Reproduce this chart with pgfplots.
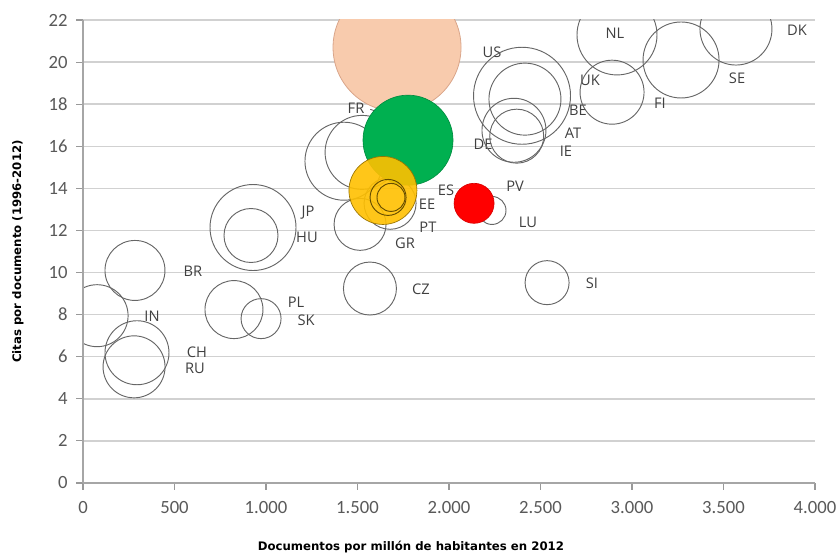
\documentclass[border=0pt]{standalone}
\usepackage{pgfplots}
\pgfplotsset{compat=1.18}
\usepackage{pgfplotstable}
\usepackage{fontspec}
\setmainfont{Carlito}
\newfontfamily\lblfont{Open Sans}
\newfontfamily\titlefont{DejaVu Sans}
\definecolor{peach}{HTML}{F8CBAD}
\definecolor{peachdark}{HTML}{D9A58A}
\definecolor{bgreen}{HTML}{00B050}
\definecolor{borange}{HTML}{FFC000}
\definecolor{bred}{HTML}{FF0000}
\definecolor{lbltext}{HTML}{404040}
\tikzset{lbl/.style={font=\lblfont\fontsize{11}{13}\selectfont, text=lbltext, inner sep=0pt}}
\pgfplotsset{geom/.style={scale only axis, width=549pt, height=347.25pt,
  xmin=0, xmax=4000, ymin=0, ymax=22, at={(0,0)}, anchor=south west,
  xtick={0,500,...,4000}, ytick={0,2,...,22}}}
\pgfplotstableread{
x y r
2399 18.40 48.5
2415 18.24 36
2355 16.76 32
2370 16.48 27
2918 21.29 40
3568 21.57 36
3268 20.10 38
2891 18.57 32
1426 15.29 39
1525 15.71 37
1514 12.29 26
1678 13.29 26
2235 12.95 14
929 12.14 43
918 11.76 27
284 10.10 30
77 7.95 31
295 6.19 32
279 5.52 31
825 8.24 29
973 7.81 20
1568 9.24 26.5
2536 9.52 22
}\outlines
\pgfplotstableread{
x y r
1667 13.57 18
1683 13.57 14
}\inner
\begin{document}
\begin{tikzpicture}
% grid and axis titles
\begin{axis}[name=ax, geom,
  xticklabels={}, yticklabels={}, major tick length=0pt,
  axis line style={draw=none},
  ymajorgrids, grid style={black!18, line width=1.1pt},
  xlabel={Documentos por millón de habitantes en 2012},
  ylabel={Citas por documento (1996-2012)},
  xlabel style={font=\titlefont\bfseries\fontsize{8.8}{10}\selectfont, at={(axis description cs:0.448,-0.1382)}, anchor=center},
  ylabel style={font=\titlefont\bfseries\fontsize{8.8}{10}\selectfont, at={(axis description cs:-0.0888,0.5)}, anchor=center},
]
\addplot[draw=none] coordinates {(0,0)};
\end{axis}
% bubbles
\begin{scope}
\clip (0,0) rectangle (549pt,347.25pt);
\begin{axis}[geom, hide axis, clip=false]
\addplot[scatter, only marks, mark=o, line width=0.7pt,
  scatter/use mapped color={draw=black!60},
  visualization depends on={0.75*\thisrow{r} \as \rr},
  scatter/@pre marker code/.append style={/tikz/mark size=\rr pt}]
  table[x=x, y=y] {\outlines};
\addplot[only marks, mark=*, mark size=48pt, mark options={fill=peach, draw=peachdark, line width=0.6pt}] coordinates {(1716,20.7)};
\addplot[only marks, mark=*, mark size=33.75pt, mark options={fill=bgreen, draw=bgreen!80!black, line width=0.5pt}] coordinates {(1776,16.29)};
\addplot[only marks, mark=*, mark size=25.5pt, mark options={fill=borange, fill opacity=0.9, draw=borange!60!black, line width=0.5pt}] coordinates {(1639,13.9)};
\addplot[only marks, mark=*, mark size=15pt, mark options={fill=bred, draw=bred!85!black, line width=0.5pt}] coordinates {(2137,13.29)};
\addplot[scatter, only marks, mark=o, line width=0.7pt,
  scatter/use mapped color={draw=borange!40!black},
  visualization depends on={0.75*\thisrow{r} \as \rr},
  scatter/@pre marker code/.append style={/tikz/mark size=\rr pt}]
  table[x=x, y=y] {\inner};
\draw[black!70, line width=0.6pt] (axis cs:1570,17.75) -- (axis cs:1710,17.4);
\node[lbl] at (axis cs:2235,20.48) {US};
\node[lbl] at (axis cs:1492,17.81) {FR};
\node[lbl] at (axis cs:2186,16.10) {DE};
\node[lbl] at (axis cs:1765,15.33) {IT};
\node[lbl] at (axis cs:1984,13.90) {ES};
\node[lbl] at (axis cs:2361,14.10) {PV};
\node[lbl] at (axis cs:1880,13.24) {EE};
\node[lbl] at (axis cs:1885,12.14) {PT};
\node[lbl] at (axis cs:1760,11.38) {GR};
\node[lbl] at (axis cs:2432,12.38) {LU};
\node[lbl] at (axis cs:1230,12.86) {JP};
\node[lbl] at (axis cs:1224,11.67) {HU};
\node[lbl] at (axis cs:601,10.05) {BR};
\node[lbl] at (axis cs:377,7.90) {IN};
\node[lbl] at (axis cs:623,6.19) {CH};
\node[lbl] at (axis cs:612,5.43) {RU};
\node[lbl] at (axis cs:1164,8.57) {PL};
\node[lbl] at (axis cs:1219,7.71) {SK};
\node[lbl] at (axis cs:1847,9.19) {CZ};
\node[lbl] at (axis cs:2781,9.48) {SI};
\node[lbl] at (axis cs:2907,21.38) {NL};
\node[lbl] at (axis cs:3902,21.52) {DK};
\node[lbl] at (axis cs:2770,19.14) {UK};
\node[lbl] at (axis cs:3574,19.24) {SE};
\node[lbl] at (axis cs:3153,18.05) {FI};
\node[lbl] at (axis cs:2705,17.71) {BE};
\node[lbl] at (axis cs:2678,16.62) {AT};
\node[lbl] at (axis cs:2639,15.76) {IE};
\end{axis}
\end{scope}
% mask anything drawn outside the plot area
\fill[white] (-40pt,-0.6pt) rectangle (-0.45pt,362pt);
\fill[white] (-0.45pt,347.85pt) rectangle (600pt,380pt);
% axis lines, ticks and tick labels on top
\begin{axis}[geom,
  xticklabels={0,500,1.000,1.500,2.000,2.500,3.000,3.500,4.000},
  /pgf/number format/assume math mode=true,
  ticklabel style={font=\fontsize{14}{16}\selectfont, text=black!65},
  xticklabel style={yshift=-5pt},
  yticklabel style={xshift=-3pt},
  axis lines*=left,
  axis line style={black!35, line width=0.8pt},
  xtick pos=bottom, ytick pos=left,
  tick align=outside, major tick length=5pt,
  major tick style={draw=black!40, line width=0.8pt},
]
\addplot[draw=none] coordinates {(0,0)};
\end{axis}
\pgfresetboundingbox
\path[use as bounding box] (ax.south west) ++(-62.25pt,-53.25pt) rectangle ([shift={(17.25pt,15pt)}]ax.north east);
\end{tikzpicture}
\end{document}
